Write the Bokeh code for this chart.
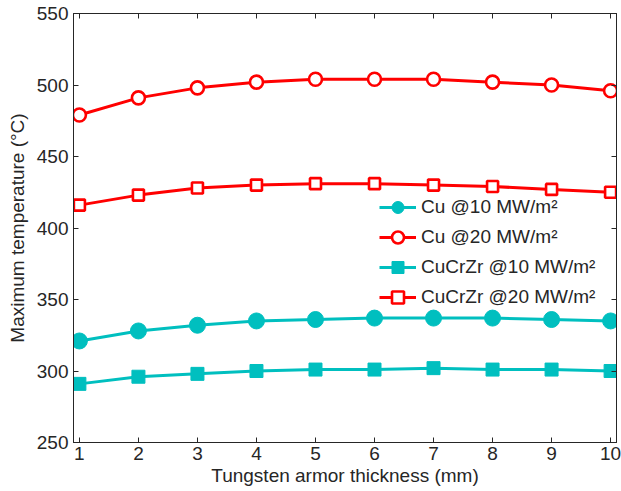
from bokeh.plotting import figure
from bokeh.models import Range1d, LinearAxis, Legend, LegendItem, FixedTicker
from bokeh.embed import file_html
from bokeh.resources import INLINE

thickness = [1, 2, 3, 4, 5, 6, 7, 8, 9, 10]
cu_10 = [321, 328, 332, 335, 336, 337, 337, 337, 336, 335]
cu_20 = [479, 491, 498, 502, 504, 504, 504, 502, 500, 496]
cucrzr_10 = [291, 296, 298, 300, 301, 301, 302, 301, 301, 300]
cucrzr_20 = [416, 423, 428, 430, 431, 431, 430, 429, 427, 425]
labels = ["Cu @10 MW/m²", "Cu @20 MW/m²", "CuCrZr @10 MW/m²", "CuCrZr @20 MW/m²"]
x_ticks = [1, 2, 3, 4, 5, 6, 7, 8, 9, 10]
y_ticks = [250, 300, 350, 400, 450, 500, 550]

CYAN = "#00BFBF"
RED = "#FF0000"
AX = "#262626"
FONT = "Liberation Sans"
FS = "19px"

p = figure(width=621, height=491, output_backend="svg", toolbar_location=None,
           x_range=Range1d(0.9, 10.1), y_range=Range1d(250, 550),
           min_border_left=73, min_border_right=5, min_border_top=13, min_border_bottom=49,
           x_axis_label="Tungsten armor thickness (mm)",
           y_axis_label="Maximum temperature (°C)")
p.background_fill_color = "white"
p.border_fill_color = "white"
p.outline_line_color = AX
p.outline_line_width = 1
p.xgrid.visible = False
p.ygrid.visible = False

for ax in (p.xaxis[0], p.yaxis[0]):
    ax.major_tick_in = 5
    ax.major_tick_out = 0
    ax.minor_tick_line_color = None
    ax.axis_line_color = AX
    ax.major_tick_line_color = AX
    ax.major_label_text_font = FONT
    ax.major_label_text_font_size = FS
    ax.major_label_text_color = AX
    ax.axis_label_text_font = FONT
    ax.axis_label_text_font_size = FS
    ax.axis_label_text_font_style = "normal"
    ax.axis_label_text_color = AX
p.xaxis[0].ticker = FixedTicker(ticks=x_ticks)
p.yaxis[0].ticker = FixedTicker(ticks=y_ticks)
p.xaxis[0].major_label_standoff = 4
p.xaxis[0].axis_label_standoff = 2
p.yaxis[0].major_label_standoff = 5
p.yaxis[0].axis_label_standoff = 6

# mirrored ticks on top and right (no labels)
top = LinearAxis(ticker=FixedTicker(ticks=x_ticks))
right = LinearAxis(ticker=FixedTicker(ticks=y_ticks))
for ax in (top, right):
    ax.major_tick_in = 5
    ax.major_tick_out = 0
    ax.minor_tick_line_color = None
    ax.axis_line_color = AX
    ax.major_tick_line_color = AX
    ax.major_label_text_font_size = "1px"
    ax.major_label_text_color = None
    ax.major_label_standoff = 0
p.add_layout(top, "above")
p.add_layout(right, "right")

series = [
    (cu_10, CYAN, "circle", 16, CYAN, 1),
    (cu_20, RED, "circle", 13, "white", 2.6),
    (cucrzr_10, CYAN, "square", 13, CYAN, 1),
    (cucrzr_20, RED, "square", 11, "white", 2.6),
]
items = []
for (vals, col, mk, sz, fill, lw), lab in zip(series, labels):
    l = p.line(thickness, vals, line_color=col, line_width=3)
    s = p.scatter(thickness, vals, marker=mk, size=sz, line_color=col,
                  fill_color=fill, line_width=lw)
    items.append(LegendItem(label=lab, renderers=[l, s]))

legend = Legend(items=items, location=(306, 130), orientation="vertical",
                glyph_width=37, glyph_height=30, label_height=30, spacing=0,
                padding=0, margin=0, label_standoff=5,
                label_text_font=FONT, label_text_font_size=FS, label_text_color=AX,
                border_line_alpha=0, background_fill_alpha=0)
p.add_layout(legend, "center")

open("out.html", "w").write(file_html(p, INLINE))
